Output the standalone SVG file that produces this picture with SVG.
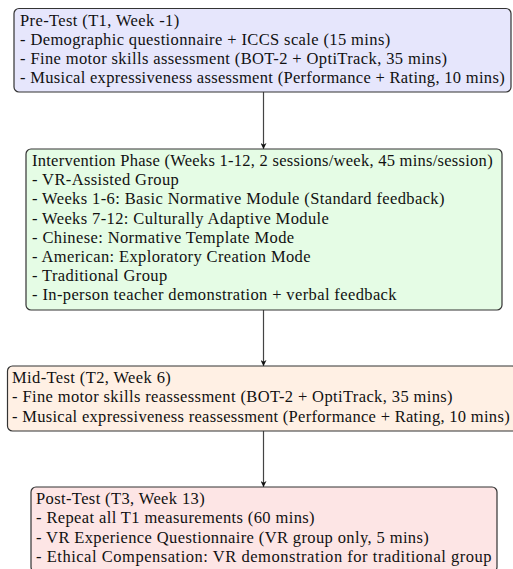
<svg xmlns="http://www.w3.org/2000/svg" width="513" height="569" viewBox="0 0 513 569">
<style>
.box{stroke:#333;stroke-width:1.2}
.t{font-family:"Liberation Serif","Times New Roman",serif;font-size:16.5px;letter-spacing:0.38px;fill:#111}
.c{stroke:#444;stroke-width:1.2;fill:none}
</style>
<defs>
<marker id="ah" viewBox="0 0 10 10" refX="10" refY="5" markerWidth="6" markerHeight="6" markerUnits="userSpaceOnUse" orient="auto">
<path d="M0,0 L10,5 L0,10 L3,5 Z" fill="#111"/>
</marker>
</defs>
<rect width="513" height="569" fill="#fff"/>
<g id="connectors">
<line class="c" x1="263.5" y1="92" x2="263.5" y2="149" marker-end="url(#ah)"/>
<line class="c" x1="263.5" y1="310" x2="263.5" y2="366" marker-end="url(#ah)"/>
<line class="c" x1="263.5" y1="431" x2="263.5" y2="487" marker-end="url(#ah)"/>
</g>
<g id="pretest">
<rect class="box" x="14" y="8.5" width="497" height="83.5" rx="5" fill="#e6e6fc"/>
<text class="t" x="20" y="25.5">Pre-Test (T1, Week -1)</text>
<text class="t" x="20" y="44.8">- Demographic questionnaire + ICCS scale (15 mins)</text>
<text class="t" x="20" y="64.1">- Fine motor skills assessment (BOT-2 + OptiTrack, 35 mins)</text>
<text class="t" x="20" y="83.4" textLength="485" lengthAdjust="spacing">- Musical expressiveness assessment (Performance + Rating, 10 mins)</text>
</g>
<g id="intervention">
<rect class="box" x="26" y="149" width="476" height="161" rx="5" fill="#e5fce5"/>
<text class="t" x="32" y="166" textLength="461" lengthAdjust="spacing">Intervention Phase (Weeks 1-12, 2 sessions/week, 45 mins/session)</text>
<text class="t" x="32" y="185.2">- VR-Assisted Group</text>
<text class="t" x="32" y="204.4">- Weeks 1-6: Basic Normative Module (Standard feedback)</text>
<text class="t" x="32" y="223.6">- Weeks 7-12: Culturally Adaptive Module</text>
<text class="t" x="32" y="242.8">- Chinese: Normative Template Mode</text>
<text class="t" x="32" y="262">- American: Exploratory Creation Mode</text>
<text class="t" x="32" y="281.2">- Traditional Group</text>
<text class="t" x="32" y="300.4">- In-person teacher demonstration + verbal feedback</text>
</g>
<g id="midtest">
<rect class="box" x="7.5" y="366" width="510" height="65" rx="5" fill="#fff0e4"/>
<text class="t" x="12" y="383">Mid-Test (T2, Week 6)</text>
<text class="t" x="12" y="402.3">- Fine motor skills reassessment (BOT-2 + OptiTrack, 35 mins)</text>
<text class="t" x="12" y="421.6" textLength="498" lengthAdjust="spacing">- Musical expressiveness reassessment (Performance + Rating, 10 mins)</text>
</g>
<g id="posttest">
<rect class="box" x="31" y="487" width="466" height="85" rx="5" fill="#fde5e5"/>
<text class="t" x="36" y="504">Post-Test (T3, Week 13)</text>
<text class="t" x="36" y="523.3">- Repeat all T1 measurements (60 mins)</text>
<text class="t" x="36" y="542.6">- VR Experience Questionnaire (VR group only, 5 mins)</text>
<text class="t" x="36" y="561.9" textLength="456" lengthAdjust="spacing">- Ethical Compensation: VR demonstration for traditional group</text>
</g>
</svg>
